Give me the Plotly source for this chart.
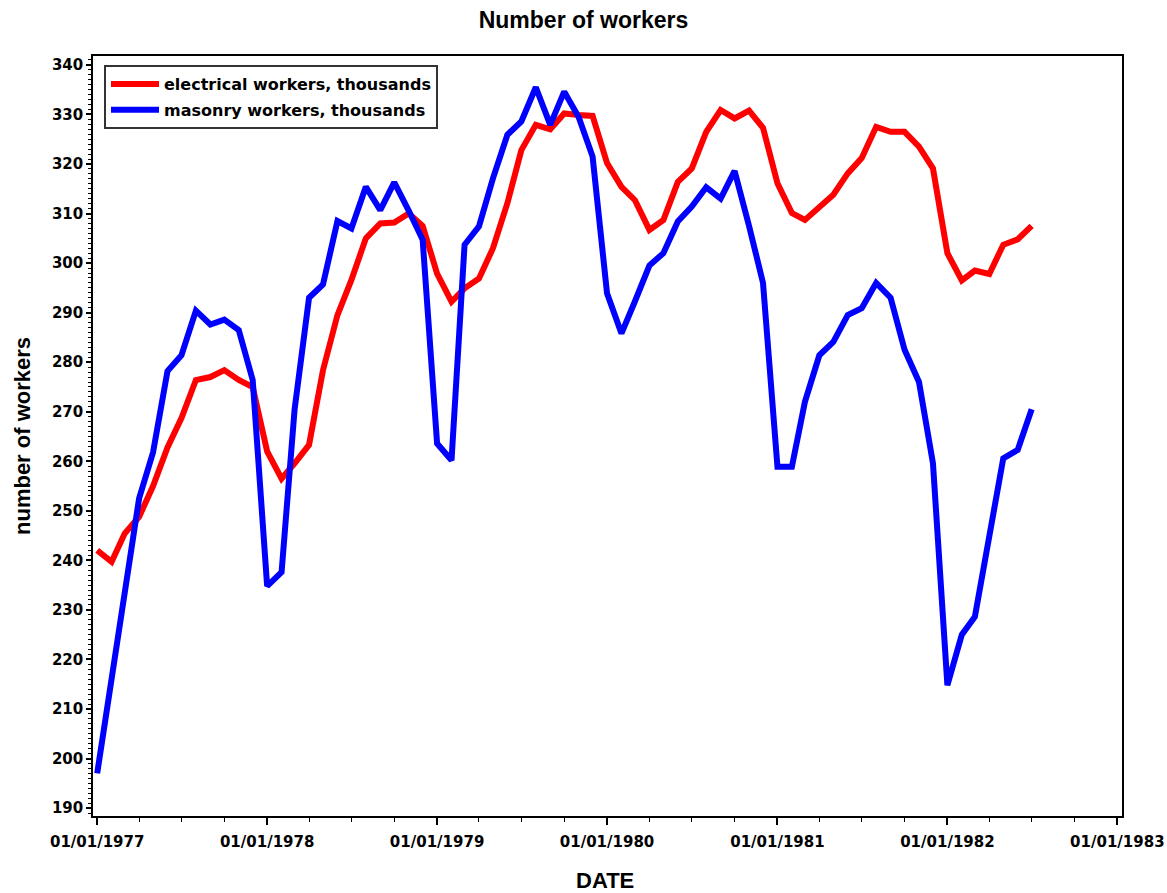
import pandas as pd
import plotly.graph_objects as go

dates = pd.date_range("1977-01-01", periods=67, freq="MS")

electrical = [242.0, 239.7, 245.4, 248.8, 255.0, 262.8, 268.7, 276.4, 277.0, 278.4,
              276.4, 275.0, 262.0, 256.5, 259.6, 263.3, 278.4, 289.5, 296.6, 305.0,
              308.0, 308.2, 310.0, 307.5, 297.9, 292.2, 294.9, 296.9, 303.0, 312.1,
              322.8, 327.9, 327.0, 330.2, 329.9, 329.7, 320.2, 315.4, 312.7, 306.7,
              308.7, 316.4, 319.1, 326.5, 330.9, 329.2, 330.8, 327.3, 316.1, 310.1,
              308.7, 311.1, 313.8, 318.1, 321.2, 327.5, 326.5, 326.5, 323.5, 319.1,
              302.0, 296.5, 298.5, 297.8, 303.7, 304.8, 307.5]

masonry = [197.0, 216.0, 235.0, 252.5, 261.8, 278.2, 281.4, 290.4, 287.6, 288.6,
           286.5, 276.4, 234.8, 237.6, 270.5, 293.0, 295.7, 308.5, 307.0, 315.4,
           310.7, 316.3, 310.6, 304.7, 263.6, 260.2, 303.7, 307.4, 317.1, 325.9,
           328.6, 335.5, 327.9, 334.6, 329.5, 321.5, 293.9, 285.8, 292.3, 299.5,
           302.0, 308.4, 311.4, 315.3, 313.0, 318.6, 307.5, 296.0, 258.9, 258.9,
           272.0, 281.4, 284.1, 289.5, 290.9, 296.0, 293.0, 282.5, 276.0, 259.6,
           214.8, 225.0, 228.6, 244.8, 260.6, 262.3, 270.5]

series_names = ["electrical workers, thousands", "masonry workers, thousands"]
series_colors = ["#ff0000", "#0000ff"]
year_ticks = pd.date_range("1977-01-01", "1983-01-01", freq="YS")

TXT = "Liberation Sans"
TICK = "DejaVu Sans"

fig = go.Figure()
for name, vals, col in zip(series_names, [electrical, masonry], series_colors):
    fig.add_trace(go.Scatter(x=dates, y=vals, mode="lines", name=name, legendgroup=name,
                             line=dict(color=col, width=6)))

W, H = 1167, 893
L, R, T, B = 93, 45, 56, 77
PW, PH = W - L - R, H - T - B
fig.update_layout(
    width=W, height=H,
    margin=dict(l=L, r=R, t=T, b=B),
    paper_bgcolor="white", plot_bgcolor="white",
    font=dict(family=TXT, color="black", size=15),
    title=dict(text="<b>Number of workers</b>", x=0.5, xref="container", xanchor="center",
               y=1 - 20 / H, yref="container", yanchor="middle",
               font=dict(family=TXT, size=23, color="black")),
    showlegend=True,
    legend=dict(x=(104 - L) / PW, y=1 - (65 - T) / PH, xanchor="left", yanchor="top",
                bordercolor="#333333", borderwidth=2, bgcolor="white",
                font=dict(family=TICK, size=16, color="black", weight="bold"),
                traceorder="grouped", tracegroupgap=2, itemwidth=48),
    annotations=[
        dict(text="<b>number of workers</b>", xref="paper", yref="paper",
             x=(22 - L) / PW, y=0.5, textangle=-90, showarrow=False,
             xanchor="center", yanchor="middle",
             font=dict(family=TXT, size=22, color="black")),
        dict(text="<b>DATE</b>", xref="paper", yref="paper",
             x=(605 - L) / PW, y=-(880 - (T + PH)) / PH, showarrow=False,
             xanchor="center", yanchor="middle",
             font=dict(family=TXT, size=22, color="black")),
    ],
)

fig.update_xaxes(
    range=["1976-12-23", "1983-01-11"],
    tickvals=year_ticks,
    tickformat="%m/%d/%Y",
    ticks="outside", ticklen=7, tickwidth=1.5, tickcolor="black",
    ticklabelstandoff=4,
    tickfont=dict(family=TICK, size=15, color="black", weight="bold"),
    minor=dict(dtick="M3", tick0="1977-01-01", ticks="outside", ticklen=4, tickcolor="black", tickwidth=1),
    showline=True, linecolor="black", linewidth=1.5, mirror=True,
    showgrid=False, zeroline=False, automargin=False,
)

fig.update_yaxes(
    range=[188.4, 341.8],
    tick0=190, dtick=10,
    ticks="outside", ticklen=5, tickwidth=1.5, tickcolor="black",
    tickfont=dict(family=TICK, size=15, color="black", weight="bold"),
    minor=dict(dtick=1, ticks="outside", ticklen=3, tickcolor="black", tickwidth=1),
    showline=True, linecolor="black", linewidth=1.5, mirror=True,
    showgrid=False, zeroline=False, automargin=False,
)

fig.write_html("out.html", config={"displayModeBar": False},
               post_script="document.body.style.margin='0';document.body.style.overflow='hidden';")
